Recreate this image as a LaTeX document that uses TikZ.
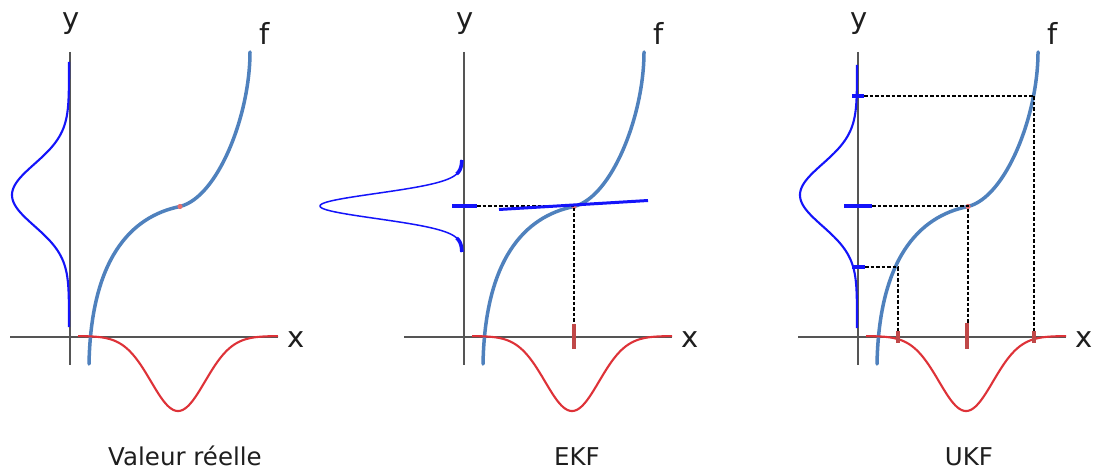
\documentclass[tikz,border=0pt]{standalone}
\usepackage{fontspec}
\setmainfont{DejaVu Sans}
\definecolor{fblue}{RGB}{79,129,189}
\definecolor{gblue}{RGB}{20,20,250}
\definecolor{gred}{RGB}{222,50,56}
\definecolor{tred}{RGB}{192,72,72}
\definecolor{axisgray}{RGB}{85,85,85}
\definecolor{dotred}{RGB}{230,110,110}
\definecolor{txt}{RGB}{30,30,30}
\begin{document}
\begin{tikzpicture}[x=1pt,y=-1pt,
  axis/.style={draw=axisgray, line width=1.4pt},
  fcurve/.style={draw=fblue, line width=3.5pt, line cap=round},
  ygauss/.style={draw=gblue, line width=2.1pt},
  xgauss/.style={draw=gred, line width=2.1pt},
  ytick/.style={draw=gblue, line width=4.5pt},
  xtick/.style={draw=tred, line width=4pt},
  tangentline/.style={draw=gblue, line width=3pt},
  proj/.style={draw=black, line width=1.2pt, dash pattern=on 3.5pt off 2pt},
  axlabel/.style={font=\fontsize{29}{32}\selectfont, inner sep=0pt, text=txt},
  title/.style={font=\fontsize{24.5}{28}\selectfont, inner sep=0pt, anchor=base, text=txt}]
\useasboundingbox (0,0) rectangle (1094,470);
\fill[white] (0,0) rectangle (1094,470);

% common elements of the three panels
\foreach \i/\dx in {1/0, 2/394, 3/788} {
  \begin{scope}[xshift=\dx pt]
    \draw[axis] (10,337) coordinate (xl\i) -- (278,337) coordinate (xr\i);
    \draw[axis] (70,52) coordinate (yt\i) -- (70,365) coordinate (yb\i);
    \draw[fcurve] (89,364) .. controls (91,260) and (130,216.5) .. (180,206.5)
                           .. controls (218,197) and (250,115) .. (250,52);
    \draw[xgauss] plot[domain=-100:100, samples=120, variable=\t] ({178+\t},{336+75*exp(-(\t/27)*(\t/27)/2)});
    \fill[dotred] (180,206.5) coordinate (c\i) circle (2.6);
    \node[axlabel] (ylab\i) at (71,24) {y};
    \node[axlabel] (flab\i) at (265,33) {f};
    \node[axlabel] (xlab\i) at (296,339.5) {x};
  \end{scope}
}

% panel 1 : y distribution
\draw[ygauss] plot[domain=-133:132, samples=160, variable=\t] ({69-57*exp(-(\t/31)*(\t/31)/2)},{195+\t});

% panel 2 : EKF
\draw[draw=gblue, line width=1.5pt] plot[domain=-46:46, samples=160, variable=\t] ({462-142*exp(-(\t/12.5)*(\t/12.5)/2)},{206+\t});
\draw[draw=gblue, line width=3.6pt] plot[domain=-46:-32, samples=30, variable=\t] ({462-142*exp(-(\t/12.5)*(\t/12.5)/2)},{206+\t});
\draw[draw=gblue, line width=3.6pt] plot[domain=32:46, samples=30, variable=\t] ({462-142*exp(-(\t/12.5)*(\t/12.5)/2)},{206+\t});
\coordinate (ey0) at (452,206);
\coordinate (ey1) at (477,206);
\coordinate (ec) at (574,206);
\coordinate (ex0) at (574,324);
\coordinate (ex1) at (574,349);
\coordinate (ta) at (499,209.5);
\coordinate (tb) at (648,200.5);
\draw[proj] (ey1) -- (ec) -- (ex0);
\draw[tangentline] (ta) -- (tb);
\draw[ytick] (ey0) -- (ey1);
\draw[xtick] (ex0) -- (ex1);

% panel 3 : UKF
\draw[ygauss] plot[domain=-130:133, samples=160, variable=\t] ({857-57*exp(-(\t/31)*(\t/31)/2)},{195+\t});
\coordinate (u1a) at (852,96);  \coordinate (u1b) at (864,96);
\coordinate (u2a) at (844,206); \coordinate (u2b) at (872,206);
\coordinate (u3a) at (852,267); \coordinate (u3b) at (865,267);
\coordinate (s1) at (1034,96);
\coordinate (s2) at (968,206);
\coordinate (s3) at (898,267);
\coordinate (g1) at (1034,334);
\coordinate (g2) at (968,324);
\coordinate (g3) at (898,334);
\draw[proj] (u1b) -- (s1) -- (g1);
\draw[proj] (u2b) -- (s2) -- (g2);
\draw[proj] (u3b) -- (s3) -- (g3);
\draw[ytick] (u1a) -- (u1b);
\draw[ytick] (u2a) -- (u2b);
\draw[ytick] (u3a) -- (u3b);
\draw[xtick] (1034,331) -- (1034,343);
\draw[xtick] (967,323) -- (967,349);
\draw[xtick] (898,331) -- (898,343);

% titles
\node[title] (t1) at (185,465) {Valeur réelle};
\node[title] (t2) at (577,465) {EKF};
\node[title] (t3) at (969,465) {UKF};
\end{tikzpicture}
\end{document}
